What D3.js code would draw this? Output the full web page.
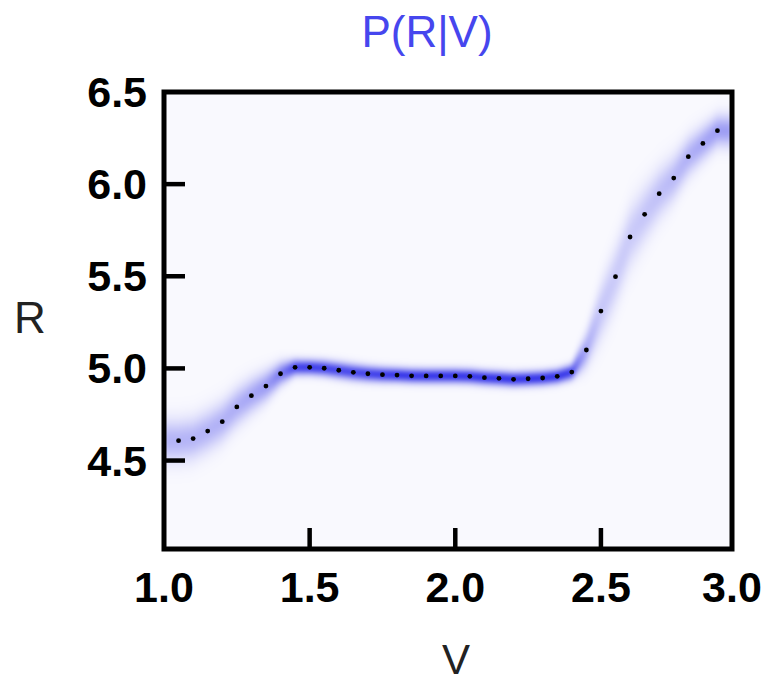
<!DOCTYPE html>
<html>
<head>
<meta charset="utf-8">
<script src="https://cdn.jsdelivr.net/npm/d3@7"></script>
<style>
  html, body { margin: 0; padding: 0; background: #ffffff; }
  svg { display: block; }
</style>
</head>
<body>
<script>
// ---- data ----
const vValues = [1.05,1.10,1.15,1.20,1.25,1.30,1.35,1.40,1.45,1.50,
                 1.55,1.60,1.65,1.70,1.75,1.80,1.85,1.90,1.95,2.00,
                 2.05,2.10,2.15,2.20,2.25,2.30,2.35,2.40,2.45,2.50,
                 2.55,2.60,2.65,2.70,2.75,2.80,2.85,2.90];
const rMeans  = [4.608,4.619,4.660,4.711,4.791,4.852,4.904,4.971,5.006,5.006,
                 5.001,4.990,4.979,4.971,4.966,4.964,4.960,4.959,4.959,4.959,
                 4.957,4.950,4.946,4.941,4.944,4.948,4.957,4.980,5.100,5.311,
                 5.498,5.713,5.836,5.948,6.033,6.149,6.221,6.290];
const rSpread = [0.075,0.075,0.074,0.072,0.068,0.062,0.054,0.040,0.027,0.026,
                 0.027,0.028,0.028,0.027,0.026,0.025,0.025,0.025,0.025,0.025,
                 0.025,0.025,0.025,0.025,0.025,0.025,0.025,0.026,0.060,0.100,
                 0.110,0.110,0.100,0.090,0.080,0.070,0.062,0.056];
const xDomain = [1.0, 2.95];
const yDomain = [4.02, 6.5];
const xTickValues = [1.0, 1.5, 2.0, 2.5, 2.95];
const yTickValues = [4.5, 5.0, 5.5, 6.0, 6.5];
const titleText = "P(R|V)";
const xLabel = "V";
const yLabel = "R";

// ---- layout ----
const W = 766, H = 684;
const margin = {left: 164, right: 34, top: 92, bottom: 135};
const x = d3.scaleLinear().domain(xDomain).range([margin.left, W - margin.right]);
const y = d3.scaleLinear().domain(yDomain).range([H - margin.bottom, margin.top]);

const svg = d3.select("body").append("svg").attr("width", W).attr("height", H);

// ---- density heatmap P(R|V) on a canvas, placed into the svg ----
const meanAt = d3.scaleLinear().domain(vValues).range(rMeans).clamp(true);
const spreadAt = d3.scaleLinear().domain(vValues).range(rSpread).clamp(true);
const minSpread = d3.min(rSpread);
const bg = "#f9f9fe", hot = "#2a2ae8";
const colour = d3.interpolateRgb(bg, hot);

const x0 = Math.round(x(xDomain[0])), x1 = Math.round(x(xDomain[1]));
const y0 = Math.round(y(yDomain[1])), y1 = Math.round(y(yDomain[0]));
const cw = x1 - x0, ch = y1 - y0;
const canvas = document.createElement("canvas");
canvas.width = cw; canvas.height = ch;
const ctx = canvas.getContext("2d");
const img = ctx.createImageData(cw, ch);
for (let i = 0; i < cw; i++) {
  const v = x.invert(x0 + i + 0.5);
  const m = meanAt(v), s = spreadAt(v);
  for (let j = 0; j < ch; j++) {
    const r = y.invert(y0 + j + 0.5);
    const z = (r - m) / s;
    let t = (minSpread / s) * Math.exp(-0.5 * z * z);
    t = Math.min(1, t);
    const c = d3.rgb(colour(t));
    const k = (j * cw + i) * 4;
    img.data[k] = c.r; img.data[k+1] = c.g; img.data[k+2] = c.b; img.data[k+3] = 255;
  }
}
ctx.putImageData(img, 0, 0);
// soften
const canvas2 = document.createElement("canvas");
canvas2.width = cw; canvas2.height = ch;
const ctx2 = canvas2.getContext("2d");
ctx2.fillStyle = bg; ctx2.fillRect(0, 0, cw, ch);
ctx2.filter = "blur(2px)";
ctx2.drawImage(canvas, 0, 0);

svg.append("image")
  .attr("x", x0).attr("y", y0).attr("width", cw).attr("height", ch)
  .attr("preserveAspectRatio", "none")
  .attr("href", canvas2.toDataURL());

// ---- mean dots ----
svg.append("g").selectAll("circle")
  .data(vValues.map((v, i) => ({v, r: rMeans[i]})))
  .join("circle")
  .attr("cx", d => x(d.v)).attr("cy", d => y(d.r))
  .attr("r", 2.4).attr("fill", "#000");

// ---- ticks (inward) ----
const tickLen = 21;
svg.append("g").selectAll("line")
  .data(xTickValues.slice(1, -1)).join("line")
  .attr("x1", d => x(d)).attr("x2", d => x(d))
  .attr("y1", y1).attr("y2", y1 - tickLen)
  .attr("stroke", "#000").attr("stroke-width", 4.5);
svg.append("g").selectAll("line")
  .data(yTickValues.slice(0, -1)).join("line")
  .attr("x1", x0).attr("x2", x0 + tickLen)
  .attr("y1", d => y(d)).attr("y2", d => y(d))
  .attr("stroke", "#000").attr("stroke-width", 4.5);

// ---- frame ----
svg.append("rect")
  .attr("x", x0).attr("y", y0).attr("width", cw).attr("height", ch)
  .attr("fill", "none").attr("stroke", "#000").attr("stroke-width", 5);

// ---- tick labels ----
const fmt = d3.format(".1f");
svg.append("g").selectAll("text")
  .data(xTickValues).join("text")
  .attr("x", d => x(d)).attr("y", 602)
  .attr("text-anchor", "middle")
  .style("font-family", "'Liberation Sans', Arial, sans-serif")
  .style("font-weight", "bold").style("font-size", "43px")
  .attr("fill", "#000")
  .text(d => fmt(d));
svg.append("g").selectAll("text")
  .data(yTickValues).join("text")
  .attr("x", 147).attr("y", d => y(d) + 15)
  .attr("text-anchor", "end")
  .style("font-family", "'Liberation Sans', Arial, sans-serif")
  .style("font-weight", "bold").style("font-size", "43px")
  .attr("fill", "#000")
  .text(d => fmt(d));

// ---- titles ----
svg.append("text")
  .attr("x", 427).attr("y", 47).attr("text-anchor", "middle")
  .style("font-family", "'Liberation Sans', Arial, sans-serif")
  .style("font-size", "44px").attr("fill", "#4646ee")
  .text(titleText);
svg.append("text")
  .attr("x", 456).attr("y", 674).attr("text-anchor", "middle")
  .style("font-family", "'Liberation Sans', Arial, sans-serif")
  .style("font-size", "42px").attr("fill", "#222")
  .text(xLabel);
svg.append("text")
  .attr("x", 30).attr("y", 333).attr("text-anchor", "middle")
  .style("font-family", "'Liberation Sans', Arial, sans-serif")
  .style("font-size", "44px").attr("fill", "#222")
  .text(yLabel);
</script>
</body>
</html>
